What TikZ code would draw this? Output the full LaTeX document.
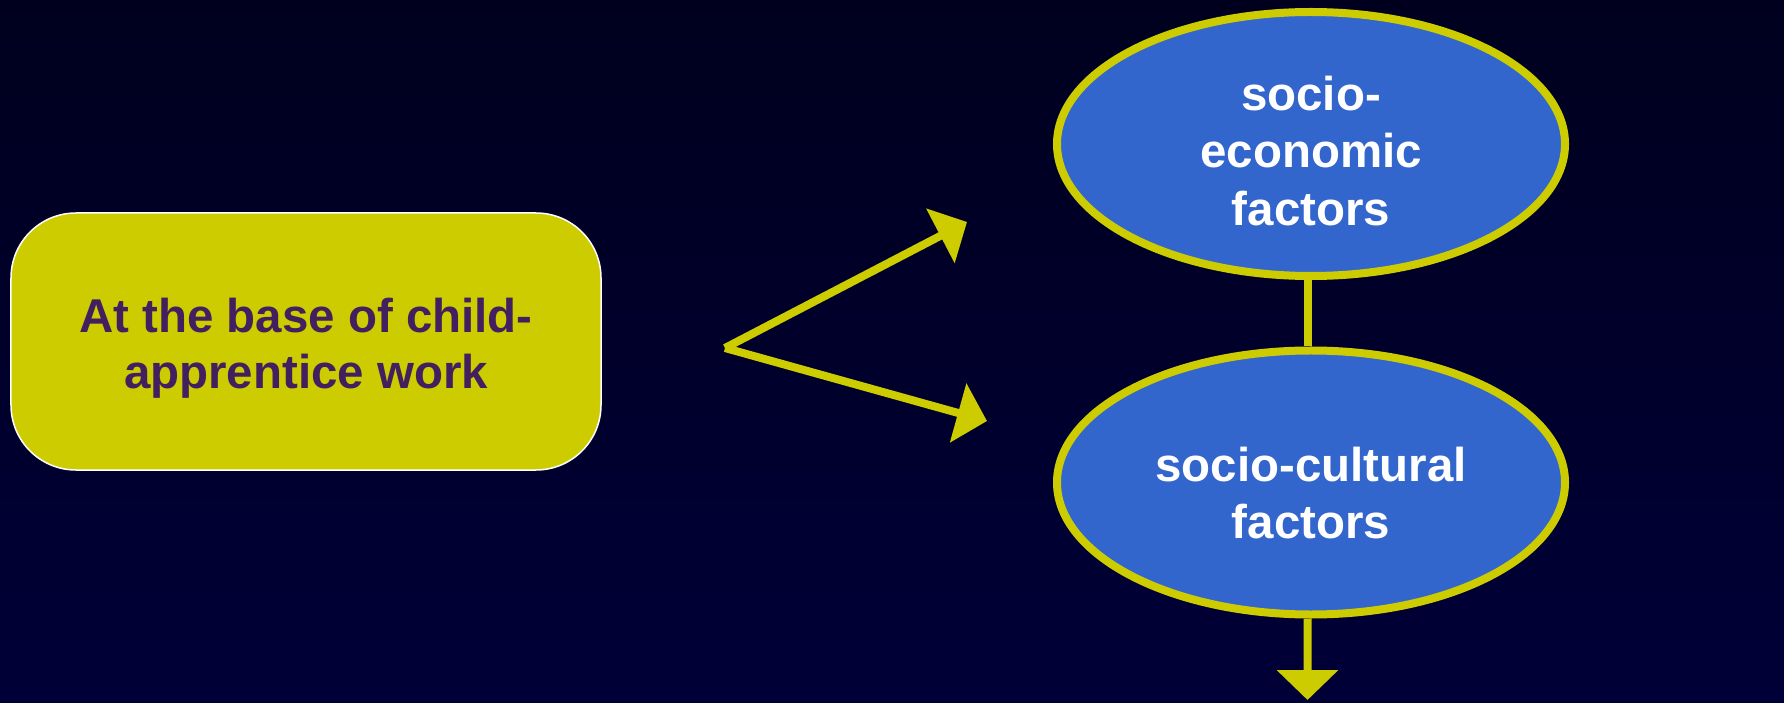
\documentclass[tikz,border=0pt]{standalone}
\usepackage{fontspec}
\setmainfont{Liberation Sans}
\usetikzlibrary{shapes.geometric,arrows.meta}
\definecolor{bgtop}{RGB}{0,0,30}
\definecolor{bgbottom}{RGB}{0,0,56}
\definecolor{olive}{RGB}{204,204,0}
\definecolor{plum}{RGB}{66,32,96}
\definecolor{factorblue}{RGB}{51,102,204}
\newcommand\push[1]{\rule{0pt}{#1}}
\tikzset{
	basebox/.style={draw=white,line width=0.3mm,fill=olive,rounded corners=13mm,
		minimum width=11.8cm,minimum height=5.14cm,inner sep=0pt,align=center,
		text=plum,font=\bfseries\fontsize{27}{32}\selectfont},
	factor/.style={ellipse,draw=olive,line width=1.6mm,fill=factorblue,
		minimum width=10.16cm,minimum height=5.28cm,inner sep=0pt,align=center,
		text=white,font=\bfseries\fontsize{27}{32.5}\selectfont},
	link/.style={olive,line width=1.6mm},
	tip/.style={-{Triangle[length=6mm,width=12mm]}}
}
\begin{document}
\begin{tikzpicture}[x=0.2mm,y=-0.2mm]
	%diagram
	\shade [top color=bgtop,bottom color=bgbottom] (0,0) rectangle (1784,702);
	\node [basebox] (base) at (306,341.5) {\push{27.5pt}At the base of child-\\apprentice work};
	\node [factor] (economic) at (1311,144) {\push{27.5pt}socio-\\economic\\factors};
	\node [factor] (cultural) at (1311,482.5) {\push{31.3pt}socio-cultural\\factors};
	\coordinate (fork) at (725,348);
	\coordinate (toeconomic) at (967,222);
	\coordinate (tocultural) at (987,421);
	\coordinate (down) at (1307.5,700);
	\draw [link][tip] (fork) -- (toeconomic);
	\draw [link][tip] (fork) -- (tocultural);
	\draw [link] ([xshift=-0.7mm]economic.south) -- ([xshift=-0.7mm]cultural.north);
	\draw [link][tip] ([xshift=-0.7mm]cultural.south) -- (down);
\end{tikzpicture}
\end{document}
